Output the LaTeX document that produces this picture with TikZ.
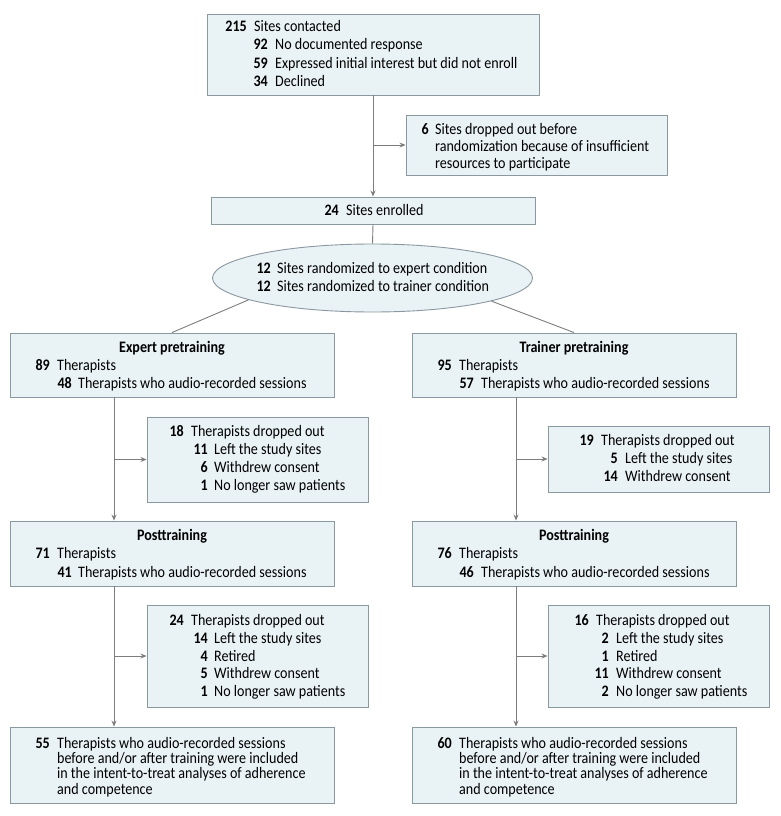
\documentclass[tikz,border=0pt]{standalone}
\usepackage{fontspec}
\setmainfont{Carlito}[FakeStretch=0.88]
\usetikzlibrary{arrows.meta,shapes.geometric}
\definecolor{boxfill}{RGB}{233,242,245}
\definecolor{boxline}{RGB}{138,152,160}
\definecolor{connc}{RGB}{125,125,125}
\newcommand{\fs}{\fontsize{16}{18}\selectfont}
\tikzset{
  box/.style={draw=boxline, fill=boxfill, line width=0.9pt, inner sep=0pt},
  num/.style={anchor=base east, inner sep=0pt, font=\fs\bfseries},
  txt/.style={anchor=base west, inner sep=0pt, font=\fs},
  ttl/.style={anchor=base, inner sep=0pt, font=\fs\bfseries},
  conn/.style={draw=connc, line width=0.9pt},
  arr/.style={conn, -{Stealth[length=6pt,width=5pt]}},
}
\begin{document}
\begin{tikzpicture}[x=1pt,y=-1pt]
\useasboundingbox (0,0) rectangle (780,816);
\fill[white] (0,0) rectangle (780,816);

% boxes
\node[box, minimum width=332pt, minimum height=81pt] (top) at (373,54.5) {};
\node[box, minimum width=261pt, minimum height=60pt] (side) at (536.5,145) {};
\node[box, minimum width=324pt, minimum height=27pt] (enr) at (373,210.5) {};
\node[box, ellipse, minimum width=320pt, minimum height=68pt] (ell) at (372.5,278) {};
\node[box, minimum width=324pt, minimum height=64pt] (epre) at (172,365) {};
\node[box, minimum width=324pt, minimum height=64pt] (tpre) at (574,365) {};
\node[box, minimum width=221pt, minimum height=85pt] (dl1) at (257.5,459.5) {};
\node[box, minimum width=221pt, minimum height=66pt] (dr1) at (658.5,459) {};
\node[box, minimum width=324pt, minimum height=65pt] (epost) at (172,553.5) {};
\node[box, minimum width=324pt, minimum height=65pt] (tpost) at (574,553.5) {};
\node[box, minimum width=221pt, minimum height=102pt] (dl2) at (257.5,656) {};
\node[box, minimum width=221pt, minimum height=102pt] (dr2) at (658.5,656) {};
\node[box, minimum width=324pt, minimum height=76pt] (fl) at (172,765) {};
\node[box, minimum width=324pt, minimum height=76pt] (fr) at (574,765) {};

% connectors
\coordinate (cl) at (114,0);
\coordinate (cr) at (516,0);
\draw[arr] (top.south) -- (enr.north);
\draw[arr] (top.south |- side.west) -- (side.west);
\draw[conn] (enr.south) -- (ell.north);
\draw[conn] (ell.190.6) -- (epre.north);
\draw[conn] (ell.349.8) -- (tpre.north);
\draw[arr] (cl |- epre.south) -- (cl |- epost.north);
\draw[arr] (cl |- dl1.west) -- (dl1.west);
\draw[arr] (cr |- tpre.south) -- (cr |- tpost.north);
\draw[arr] (cr |- dr1.west) -- (dr1.west);
\draw[arr] (cl |- epost.south) -- (cl |- fl.north);
\draw[arr] (cl |- dl2.west) -- (dl2.west);
\draw[arr] (cr |- tpost.south) -- (cr |- fr.north);
\draw[arr] (cr |- dr2.west) -- (dr2.west);

% top box
\node[num] (n215) at (247,32) {215};
\node[txt] (t215) at (254,32) {Sites contacted};
\node[num] (n92) at (268,50) {92};
\node[txt] (t92) at (275,50) {No documented response};
\node[num] (n59) at (268,68) {59};
\node[txt] (t59) at (275,68) {Expressed initial interest but did not enroll};
\node[num] (n34) at (268,86) {34};
\node[txt] (t34) at (275,86) {Declined};

% side box
\node[num] (n6) at (429,134) {6};
\node[txt] (t6a) at (435,134) {Sites dropped out before};
\node[txt] (t6b) at (435,151) {randomization because of insufficient};
\node[txt] (t6c) at (435,168) {resources to participate};

% enrolled
\node[num] (n24) at (339,215) {24};
\node[txt] (t24) at (346,215) {Sites enrolled};

% ellipse
\node[num] (n12a) at (271,273) {12};
\node[txt] (t12a) at (277,273) {Sites randomized to expert condition};
\node[num] (n12b) at (271,291) {12};
\node[txt] (t12b) at (277,291) {Sites randomized to trainer condition};

% expert pretraining
\node[ttl] (hep) at (172,352) {Expert pretraining};
\node[num] (n89) at (50,370) {89};
\node[txt] (t89) at (57,370) {Therapists};
\node[num] (n48) at (72,388) {48};
\node[txt] (t48) at (78,388) {Therapists who audio-recorded sessions};

% trainer pretraining
\node[ttl] (htp) at (574,352) {Trainer pretraining};
\node[num] (n95) at (452,370) {95};
\node[txt] (t95) at (459,370) {Therapists};
\node[num] (n57) at (474,388) {57};
\node[txt] (t57) at (481,388) {Therapists who audio-recorded sessions};

% dropped left 1
\node[num] (n18) at (184,436) {18};
\node[txt] (t18) at (191,436) {Therapists dropped out};
\node[num] (n11) at (208,454) {11};
\node[txt] (t11) at (214,454) {Left the study sites};
\node[num] (n6w) at (208,472) {6};
\node[txt] (t6w) at (214,472) {Withdrew consent};
\node[num] (n1n) at (208,490) {1};
\node[txt] (t1n) at (214,490) {No longer saw patients};

% dropped right 1
\node[num] (n19) at (594,445) {19};
\node[txt] (t19) at (601,445) {Therapists dropped out};
\node[num] (n5l) at (618,463) {5};
\node[txt] (t5l) at (625,463) {Left the study sites};
\node[num] (n14w) at (618,481) {14};
\node[txt] (t14w) at (625,481) {Withdrew consent};

% posttraining left
\node[ttl] (hepo) at (172,540) {Posttraining};
\node[num] (n71) at (50,558) {71};
\node[txt] (t71) at (57,558) {Therapists};
\node[num] (n41) at (72,577) {41};
\node[txt] (t41) at (78,577) {Therapists who audio-recorded sessions};

% posttraining right
\node[ttl] (htpo) at (574,540) {Posttraining};
\node[num] (n76) at (452,558) {76};
\node[txt] (t76) at (459,558) {Therapists};
\node[num] (n46) at (474,577) {46};
\node[txt] (t46) at (481,577) {Therapists who audio-recorded sessions};

% dropped left 2
\node[num] (n24d) at (184,625) {24};
\node[txt] (t24d) at (191,625) {Therapists dropped out};
\node[num] (n14l) at (208,643) {14};
\node[txt] (t14l) at (214,643) {Left the study sites};
\node[num] (n4r) at (208,661) {4};
\node[txt] (t4r) at (214,661) {Retired};
\node[num] (n5w) at (208,678) {5};
\node[txt] (t5w) at (214,678) {Withdrew consent};
\node[num] (n1p) at (208,696) {1};
\node[txt] (t1p) at (214,696) {No longer saw patients};

% dropped right 2
\node[num] (n16) at (589,625) {16};
\node[txt] (t16) at (596,625) {Therapists dropped out};
\node[num] (n2l) at (609,643) {2};
\node[txt] (t2l) at (616,643) {Left the study sites};
\node[num] (n1r) at (609,661) {1};
\node[txt] (t1r) at (616,661) {Retired};
\node[num] (n11w) at (609,678) {11};
\node[txt] (t11w) at (616,678) {Withdrew consent};
\node[num] (n2p) at (609,696) {2};
\node[txt] (t2p) at (616,696) {No longer saw patients};

% final left
\node[num] (n55) at (50,748) {55};
\node[txt] (t55a) at (57,748) {Therapists who audio-recorded sessions};
\node[txt] (t55b) at (57,763) {before and/or after training were included};
\node[txt] (t55c) at (57,778) {in the intent-to-treat analyses of adherence};
\node[txt] (t55d) at (57,794) {and competence};

% final right
\node[num] (n60) at (452,748) {60};
\node[txt] (t60a) at (459,748) {Therapists who audio-recorded sessions};
\node[txt] (t60b) at (459,763) {before and/or after training were included};
\node[txt] (t60c) at (459,778) {in the intent-to-treat analyses of adherence};
\node[txt] (t60d) at (459,794) {and competence};
\end{tikzpicture}
\end{document}
